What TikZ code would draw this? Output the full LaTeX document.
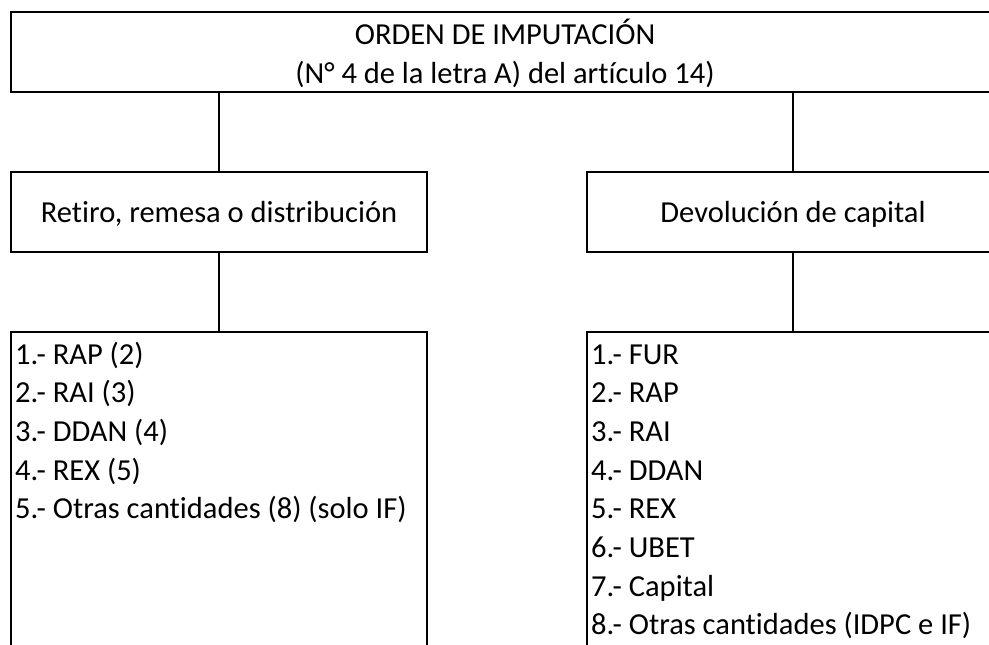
\documentclass[tikz,border=0pt]{standalone}
\usepackage{fontspec}
\setmainfont{Carlito}[Ligatures=NoCommon]
\begin{document}
\begin{tikzpicture}[x=1pt,y=-1pt,
  boxst/.style={draw=black,line width=1.5pt,rectangle,inner sep=0pt},
  conn/.style={draw=black,line width=1.3pt},
  txt/.style={inner sep=0pt,font=\fontsize{30.5}{36}\selectfont,text=black},
  item/.style={txt,anchor=base west}]
\useasboundingbox (0,0) rectangle (989,645);
\clip (0,0) rectangle (989,645);
% boxes
\node[boxst,minimum width=988pt,minimum height=80pt] (top) at (505,52) {};
\node[boxst,minimum width=416pt,minimum height=80pt] (midL) at (219,212) {};
\node[boxst,minimum width=412pt,minimum height=80pt] (midR) at (793,212) {};
\node[boxst,minimum width=416pt,minimum height=368pt] (botL) at (219,516) {};
\node[boxst,minimum width=412pt,minimum height=368pt] (botR) at (793,516) {};
% connectors
\draw[conn] (top.south -| midL.north) -- (midL.north);
\draw[conn] (top.south -| midR.north) -- (midR.north);
\draw[conn] (midL.south) -- (botL.north);
\draw[conn] (midR.south) -- (botR.north);
% texts
\node[txt,anchor=base] (t1) at (505,45) {ORDEN DE IMPUTACIÓN};
\node[txt,anchor=base] (t2) at (505,83) {(N° 4 de la letra A) del artículo 14)};
\node[txt,anchor=base] (tl) at (219,222) {Retiro, remesa o distribución};
\node[txt,anchor=base] (tr) at (793,222) {Devolución de capital};
\foreach \s [count=\i] in {1.- RAP (2),2.- RAI (3),3.- DDAN (4),4.- REX (5),5.- Otras cantidades (8) (solo IF)}
  \node[item] (l\i) at (15,{364+38.7*(\i-1)}) {\s};
\foreach \s [count=\i] in {1.- FUR,2.- RAP,3.- RAI,4.- DDAN,5.- REX,6.- UBET,7.- Capital,8.- Otras cantidades (IDPC e IF)}
  \node[item] (r\i) at (591,{364+38.7*(\i-1)}) {\s};
\end{tikzpicture}
\end{document}
